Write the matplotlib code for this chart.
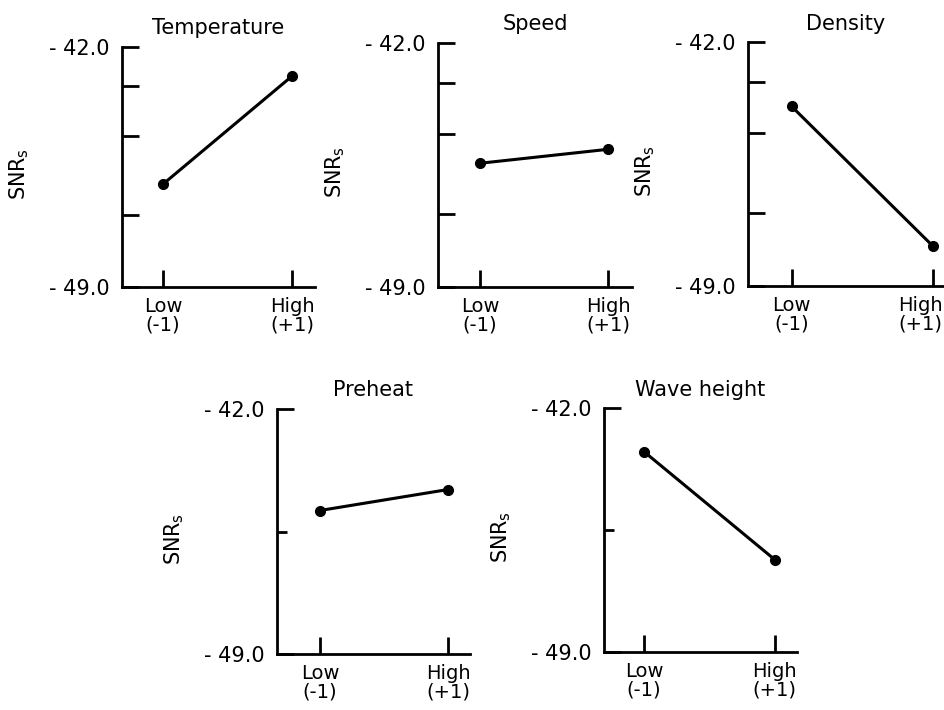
import matplotlib
matplotlib.use("Agg")
import matplotlib.pyplot as plt
import matplotlib.transforms as mtransforms

plt.rcParams['font.family'] = ['DejaVu Sans']

# ---- data ----
factors = ['Temperature', 'Speed', 'Density', 'Preheat', 'Wave height']
level_codes = [-1, 1]
level_labels = ['Low\n(-1)', 'High\n(+1)']
low_values = [-46.0, -45.45, -43.85, -44.9, -43.25]
high_values = [-42.85, -45.05, -47.85, -44.3, -46.35]
y_limits = [-49.0, -42.0]
y_labels = ['- 49.0', '- 42.0']
minor_ticks = [[-43.15, -44.6, -46.9], [-43.15, -44.6, -46.9], [-43.15, -44.6, -46.9],
               [-45.5], [-45.5]]
ylabel_text = 'SNR$_\\mathregular{s}$'

# ---- layout (pixel boxes: left, right, top, bottom) and x-limits ----
W, H = 945, 710
boxes = [(122, 315, 47, 287), (438, 632, 43, 287), (748, 944, 42, 286),
         (277, 470, 409, 654), (604, 797, 408, 652)]
xlims = [(-1.636, 1.357), (-1.656, 1.375), (-1.62, 1.16), (-1.67, 1.34), (-1.61, 1.34)]
FS = 14
FS_BIG = 15

fig = plt.figure(figsize=(W / 100, H / 100), dpi=100)
fig.patch.set_facecolor('white')

for i, name in enumerate(factors):
    l, r, t, b = boxes[i]
    ax = fig.add_axes([l / W, 1 - b / H, (r - l) / W, (b - t) / H])
    ax.plot(level_codes, [low_values[i], high_values[i]], color='black', lw=2.2,
            marker='o', ms=7, clip_on=False, zorder=3)
    ax.set_xlim(*xlims[i])
    ax.set_ylim(*y_limits)
    for s in ['top', 'right']:
        ax.spines[s].set_visible(False)
    for s in ['left', 'bottom']:
        ax.spines[s].set_linewidth(2.0)
    ax.set_yticks(y_limits)
    ax.set_yticklabels(y_labels, fontsize=FS_BIG)
    ax.set_yticks(minor_ticks[i], minor=True)
    ax.set_xticks(level_codes)
    ax.set_xticklabels(level_labels, fontsize=FS, linespacing=1.0)
    ax.tick_params(axis='y', which='major', direction='in', length=12, width=2, pad=9)
    ax.tick_params(axis='y', which='minor', direction='in', length=12 if i < 3 else 7, width=2)
    ax.tick_params(axis='x', which='major', direction='in', length=12, width=2, pad=7)
    ax.set_title(name, fontsize=FS_BIG, pad=9)
    ax.set_ylabel(ylabel_text, fontsize=FS_BIG)
    ax.yaxis.set_label_coords(-91 / (r - l), 0.47)
    if i == 2:
        lab = ax.get_xticklabels()[-1]
        lab.set_transform(lab.get_transform() +
                          mtransforms.ScaledTranslation(-12 / 100, 0, fig.dpi_scale_trans))

fig.savefig('out.png', dpi=100, facecolor='white')
